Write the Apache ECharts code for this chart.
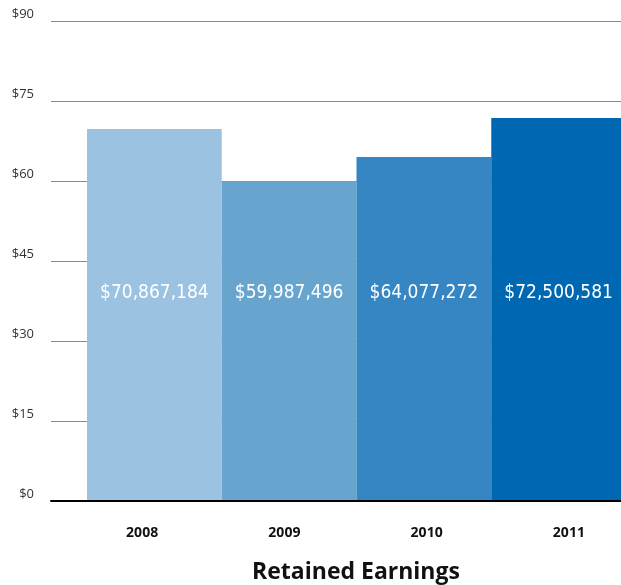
<!DOCTYPE html>
<html><head><meta charset="utf-8">
<script src="https://cdn.jsdelivr.net/npm/echarts@6/dist/echarts.min.js"></script>
<style>html,body{margin:0;padding:0;background:#fff}#c{width:621px;height:585px}</style>
</head><body><div id="c"></div>
<script>
const categories = ['2008', '2009', '2010', '2011'];
const values = [69.75, 60, 64.5, 71.8]; // bar heights as drawn (millions)
const valueLabels = ['$70,867,184', '$59,987,496', '$64,077,272', '$72,500,581'];
const barColors = ['#9bc2e1', '#67a5cf', '#3586c3', '#0068b2'];
const yTicks = { min: 0, max: 90, interval: 15 };
const title = 'Retained Earnings';

const chart = echarts.init(document.getElementById('c'), null, { renderer: 'canvas' });
chart.setOption({
  animation: false,
  backgroundColor: '#fff',
  title: {
    text: title, left: 351, top: 556, textAlign: 'center',
    textStyle: { fontFamily: 'Open Sans', fontWeight: 'bold', fontSize: 23, color: '#111' }
  },
  grid: [
    { left: 51, right: 0, top: 21, bottom: 84 },
    { left: 87, width: 539, top: 21, bottom: 84, outerBoundsMode: 'none' },
    { left: 71, width: 569, top: 21, bottom: 84, outerBoundsMode: 'none' }
  ],
  xAxis: [
    { gridIndex: 0, type: 'category', data: categories, z: 5,
      axisLine: { lineStyle: { color: '#000', width: 2 } },
      axisTick: { show: false }, axisLabel: { show: false } },
    { gridIndex: 1, type: 'category', data: categories, show: false },
    { gridIndex: 2, type: 'category', data: categories,
      axisLine: { show: false }, axisTick: { show: false },
      axisLabel: { margin: 25, fontFamily: 'Open Sans', fontWeight: 'bold', fontSize: 14, color: '#111' } }
  ],
  yAxis: [
    { gridIndex: 0, type: 'value', min: yTicks.min, max: yTicks.max, interval: yTicks.interval,
      axisLine: { show: false }, axisTick: { show: false },
      splitLine: { lineStyle: { color: '#8a8a8a', width: 1 } },
      axisLabel: { margin: 17, formatter: v => '$' + v, verticalAlign: 'bottom', lineHeight: 14,
        fontFamily: 'Open Sans', fontSize: 13, color: '#333' } },
    { gridIndex: 1, type: 'value', min: yTicks.min, max: yTicks.max, show: false },
    { gridIndex: 2, type: 'value', min: yTicks.min, max: yTicks.max, show: false }
  ],
  series: [{
    type: 'bar', xAxisIndex: 1, yAxisIndex: 1,
    barWidth: '100%', barGap: '0%',
    data: values.map((v, i) => ({
      value: v,
      itemStyle: { color: barColors[i] },
      label: { formatter: valueLabels[i] }
    })),
    label: {
      show: true, position: 'insideBottom', distance: 197,
      color: '#fff', fontFamily: 'DejaVu Sans Condensed, sans-serif',
      fontSize: 19, lineHeight: 22
    }
  }]
});
</script></body></html>
